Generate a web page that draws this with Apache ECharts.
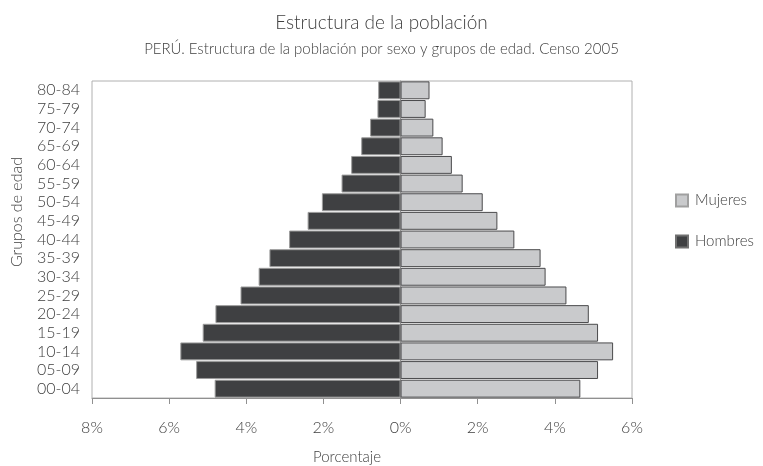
<!DOCTYPE html>
<html>
<head>
<meta charset="utf-8">
<script src="https://cdn.jsdelivr.net/npm/echarts@6/dist/echarts.min.js"></script>
<style>
  html, body { margin: 0; padding: 0; background: #fff; }
  #chart { width: 763px; height: 466px; }
</style>
</head>
<body>
<div id="chart"></div>
<script>
// Age groups, oldest at the top
const ageGroups = ['00-04', '05-09', '10-14', '15-19', '20-24', '25-29', '30-34', '35-39',
  '40-44', '45-49', '50-54', '55-59', '60-64', '65-69', '70-74', '75-79', '80-84'];

// Share of the total population (%) per age group
const hombres = [4.82, 5.30, 5.71, 5.13, 4.80, 4.15, 3.68, 3.40,
  2.89, 2.41, 2.04, 1.53, 1.28, 1.02, 0.79, 0.60, 0.58];
const mujeres = [4.66, 5.12, 5.51, 5.12, 4.88, 4.30, 3.76, 3.63,
  2.95, 2.51, 2.13, 1.61, 1.33, 1.09, 0.85, 0.65, 0.75];

// Percentage axis ticks
const xMin = -8, xMax = 6, xStep = 2;

const FONT = 'Lato, "Open Sans", sans-serif';
const TEXT = '#404040';

const chart = echarts.init(document.getElementById('chart'), null, { renderer: 'canvas' });

chart.setOption({
  backgroundColor: '#ffffff',
  animation: false,
  textStyle: { fontFamily: FONT, color: TEXT, fontWeight: 300 },
  title: {
    text: 'Estructura de la población',
    subtext: 'PERÚ. Estructura de la población por sexo y grupos de edad. Censo 2005',
    left: 'center',
    top: 8,
    itemGap: 10,
    textStyle: { fontFamily: FONT, fontSize: 19, fontWeight: 300, color: TEXT },
    subtextStyle: { fontFamily: FONT, fontSize: 15, fontWeight: 300, color: TEXT }
  },
  legend: {
    data: [
      { name: 'Mujeres', itemStyle: { borderColor: '#a0a0a0' } },
      { name: 'Hombres', itemStyle: { borderColor: '#707070' } }
    ],
    orient: 'vertical',
    left: 670,
    top: 188,
    itemWidth: 12,
    itemHeight: 12,
    itemGap: 26,
    icon: 'rect',
    textStyle: { fontFamily: FONT, fontSize: 15, fontWeight: 300, color: TEXT, padding: [0, 0, 0, 2] }
  },
  grid: {
    left: 92,
    right: 131,
    top: 81,
    bottom: 68,
    show: true,
    borderColor: '#b0b0b0',
    borderWidth: 1,
    backgroundColor: '#ffffff'
  },
  xAxis: {
    type: 'value',
    min: xMin,
    max: xMax,
    interval: xStep,
    splitLine: { show: false },
    axisLine: { show: true, lineStyle: { color: '#909090' } },
    axisTick: { show: true, length: 6, lineStyle: { color: '#909090' } },
    axisLabel: {
      margin: 22,
      fontFamily: FONT,
      fontSize: 16,
      fontWeight: 300,
      color: TEXT,
      formatter: v => Math.abs(v) + '%'
    }
  },
  yAxis: {
    type: 'category',
    data: ageGroups,
    axisLine: { show: true, lineStyle: { color: '#909090' } },
    axisTick: { show: false },
    axisLabel: { interval: 0, margin: 12, fontFamily: FONT, fontSize: 16, fontWeight: 300, color: TEXT }
  },
  graphic: [
    {
      type: 'text',
      x: 17,
      y: 212,
      rotation: Math.PI / 2,
      style: {
        text: 'Grupos de edad',
        font: '300 16px ' + FONT,
        fill: TEXT,
        textAlign: 'center',
        textVerticalAlign: 'middle'
      }
    },
    {
      type: 'text',
      x: 347,
      y: 457,
      style: {
        text: 'Porcentaje',
        font: '300 15px ' + FONT,
        fill: TEXT,
        textAlign: 'center',
        textVerticalAlign: 'middle'
      }
    }
  ],
  series: [
    {
      name: 'Hombres',
      type: 'bar',
      stack: 'pop',
      barCategoryGap: '4%',
      data: hombres.map(v => -v),
      itemStyle: { color: '#3f4042', borderColor: '#9c9c9c', borderWidth: 1 }
    },
    {
      name: 'Mujeres',
      type: 'bar',
      stack: 'pop',
      barCategoryGap: '4%',
      data: mujeres,
      itemStyle: { color: '#c9cacc', borderColor: '#4a4a4c', borderWidth: 1 }
    }
  ]
});
</script>
</body>
</html>
